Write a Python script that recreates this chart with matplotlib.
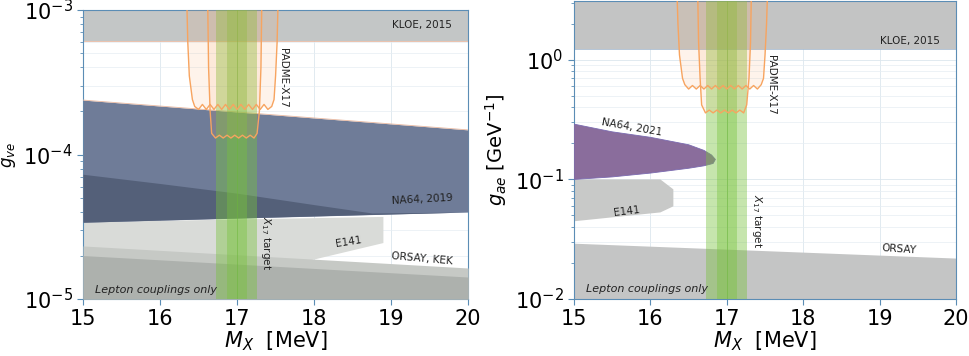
import numpy as np
import matplotlib
matplotlib.use("Agg")
import matplotlib.pyplot as plt

# ---------------- data ----------------
mx_lim = (15, 20)

# left panel: g_ve
kloe_ve = 6.1e-4
na64_2019_x = [15, 20]
na64_2019_lo = [3.4e-5, 4.0e-5]
na64_2019_hi = [2.38e-4, 1.48e-4]
na64_dark_x = [15, 16, 17, 18, 18.75, 20]
na64_dark_hi = [7.3e-5, 6.3e-5, 5.4e-5, 4.5e-5, 3.94e-5, 4.0e-5]
na64_dark_lo = [3.4e-5, 3.52e-5, 3.64e-5, 3.76e-5, 3.85e-5, 4.0e-5]
e141_ve_x = [15, 18.9, 18.9, 17.97, 15]
e141_ve_y = [3.4e-5, 3.7e-5, 2.44e-5, 1.86e-5, 1.5e-5]
orsay_ve_x = [15, 20]
orsay_ve_hi = [2.33e-5, 1.64e-5]
kek_ve_hi = [2.0e-5, 1.42e-5]

padme_ve_outer_x = [16.35, 16.36, 16.38, 16.42, 16.45, 16.5, 16.55, 16.6, 16.65, 16.7, 16.75,
                    16.8, 16.85, 16.9, 16.95, 17.0, 17.05, 17.1, 17.15, 17.2, 17.25, 17.3,
                    17.35, 17.4, 17.45, 17.48, 17.5, 17.52, 17.53]
padme_ve_outer_y = [1e-3, 6e-4, 3.5e-4, 2.4e-4, 2.15e-4, 2.05e-4, 2.22e-4, 2.05e-4, 2.22e-4,
                    2.05e-4, 2.22e-4, 2.05e-4, 2.22e-4, 2.05e-4, 2.22e-4, 2.05e-4, 2.22e-4,
                    2.05e-4, 2.22e-4, 2.05e-4, 2.22e-4, 2.05e-4, 2.22e-4, 2.05e-4, 2.15e-4,
                    2.4e-4, 3.5e-4, 6e-4, 1e-3]
padme_ve_inner_x = [16.62, 16.63, 16.65, 16.67, 16.72, 16.77, 16.82, 16.87, 16.92, 16.97,
                    17.02, 17.07, 17.12, 17.17, 17.22, 17.26, 17.29, 17.31, 17.32]
padme_ve_inner_y = [1e-3, 4e-4, 2e-4, 1.4e-4, 1.3e-4, 1.36e-4, 1.3e-4, 1.36e-4, 1.3e-4,
                    1.36e-4, 1.3e-4, 1.36e-4, 1.3e-4, 1.36e-4, 1.3e-4, 1.4e-4, 2e-4, 4e-4, 1e-3]

# right panel: g_ae
kloe_ae = 1.24
na64_2021_x = [15, 15.5, 16, 16.5, 16.7, 16.8, 16.85, 16.82, 16.7, 16.5, 16, 15.5, 15]
na64_2021_y = [0.29, 0.25, 0.225, 0.195, 0.175, 0.16, 0.147, 0.136, 0.13, 0.124, 0.113, 0.105, 0.1]
e141_ae_x = [15, 16.13, 16.3, 16.3, 16.13, 15]
e141_ae_y = [0.1, 0.1, 0.0826, 0.0596, 0.053, 0.0447]
orsay_ae_x = [15, 20]
orsay_ae_hi = [0.0293, 0.022]

padme_ae_outer_x = padme_ve_outer_x
padme_ae_outer_y = [3.2, 2.0, 1.1, 0.7, 0.62, 0.57, 0.61, 0.57, 0.61, 0.57, 0.61, 0.57, 0.61,
                    0.57, 0.61, 0.57, 0.61, 0.57, 0.61, 0.57, 0.61, 0.57, 0.61, 0.57, 0.62,
                    0.7, 1.1, 2.0, 3.2]
padme_ae_inner_x = padme_ve_inner_x
padme_ae_inner_y = [3.2, 1.4, 0.7, 0.42, 0.36, 0.38, 0.36, 0.38, 0.36, 0.38, 0.36, 0.38,
                    0.36, 0.38, 0.36, 0.42, 0.7, 1.4, 3.2]

x17_outer = (16.73, 17.26)
x17_inner = (16.87, 17.13)

# ---------------- figure ----------------
fig = plt.figure(figsize=(9.7, 3.56), dpi=100)
ax1 = fig.add_axes([0.0856, 0.160, 0.397, 0.812])
ax2 = fig.add_axes([0.5918, 0.160, 0.3938, 0.837])

spine_c = "#5b8db5"
orange = "#f7a460"


def style(ax, ylim):
    ax.set_yscale("log")
    ax.set_xlim(*mx_lim)
    ax.set_ylim(*ylim)
    ax.set_xticks([15, 16, 17, 18, 19, 20])
    ax.tick_params(labelsize=15, color=spine_c, length=4)
    ax.tick_params(which="minor", color=spine_c, length=2)
    for s in ax.spines.values():
        s.set_color(spine_c)
        s.set_linewidth(0.8)
    ax.grid(True, which="major", color="#dce6ee", lw=0.6)
    ax.grid(True, which="minor", axis="y", color="#e6edf3", lw=0.5)
    ax.set_axisbelow(True)
    ax.set_xlabel(r"$M_X$  [MeV]", fontsize=15, labelpad=0)


def x17(ax):
    ax.axvspan(*x17_outer, color="#78c23c", alpha=0.42, lw=0, zorder=5)
    ax.axvspan(*x17_inner, color="#78c23c", alpha=0.40, lw=0, zorder=5)
    ax.axvline(17.0, color="#6cb83a", lw=0.6, alpha=0.6, zorder=5)


def padme(ax, ox, oy, ix, iy):
    for xs, ys in [(ox, oy), (ix, iy)]:
        ax.fill(xs, ys, facecolor=orange, alpha=0.12, hatch="....", edgecolor="none", zorder=6)
        ax.plot(xs, ys, color=orange, lw=1.0, zorder=7)


# ---- left panel ----
ylim1 = (1e-5, 1e-3)
style(ax1, ylim1)
ax1.axhspan(kloe_ve, 1e-3, color="#c3c6c6", lw=0, zorder=2)
ax1.axhline(kloe_ve, color="#e8b8a0", lw=0.6, zorder=2)
ax1.fill(e141_ve_x, e141_ve_y, color="#d9dbd8", lw=0, zorder=2)
ax1.fill_between(orsay_ve_x, 1e-5, orsay_ve_hi, color="#c6c9c5", lw=0, zorder=3)
ax1.fill_between(orsay_ve_x, 1e-5, kek_ve_hi, color="#adb1ad", lw=0, zorder=3)
ax1.fill_between(na64_2019_x, na64_2019_lo, na64_2019_hi, color="#6f7c98", lw=0, zorder=3)
ax1.plot(na64_2019_x, na64_2019_hi, color="#e8b8a0", lw=0.6, zorder=3)
ax1.fill_between(na64_dark_x, na64_dark_lo, na64_dark_hi, color="#546079", lw=0, zorder=3)
x17(ax1)
padme(ax1, padme_ve_outer_x, padme_ve_outer_y, padme_ve_inner_x, padme_ve_inner_y)
ax1.set_ylabel(r"$g_{ve}$", fontsize=12, labelpad=4)

tk = dict(fontsize=7.5, color="#222222", zorder=10)
ax1.text(19.4, 7.9e-4, "KLOE, 2015", ha="center", va="center", **tk)
ax1.text(17.6, 3.4e-4, "PADME-X17", ha="center", va="center", rotation=-90, **tk)
ax1.text(19.4, 4.9e-5, "NA64, 2019", ha="center", va="center", rotation=3, **tk)
ax1.text(18.45, 2.5e-5, "E141", ha="center", va="center", rotation=9, **tk)
ax1.text(19.4, 1.9e-5, "ORSAY, KEK", ha="center", va="center", rotation=-5, **tk)
ax1.text(17.38, 2.45e-5, r"$X_{17}$ target", ha="center", va="center", rotation=-90, **tk)
ax1.text(15.15, 1.16e-5, "Lepton couplings only", ha="left", va="center",
         style="italic", fontsize=8, color="#222222", zorder=10)

# ---- right panel ----
ylim2 = (1e-2, 3.1)
style(ax2, ylim2)
ax2.axhspan(kloe_ae, 3.1, color="#c3c4c4", lw=0, zorder=2)
ax2.axhline(kloe_ae, color="#a8bcd0", lw=0.6, zorder=2)
ax2.fill(e141_ae_x, e141_ae_y, color="#c8c9c8", lw=0, zorder=2)
ax2.fill_between(orsay_ae_x, 1e-2, orsay_ae_hi, color="#c4c5c5", lw=0, zorder=2)
ax2.fill(na64_2021_x, na64_2021_y, color="#8a6d9c", lw=0.6, edgecolor="#7a6ab0", zorder=3)
x17(ax2)
padme(ax2, padme_ae_outer_x, padme_ae_outer_y, padme_ae_inner_x, padme_ae_inner_y)
ax2.set_ylabel(r"$g_{ae}$ [GeV$^{-1}$]", fontsize=14, labelpad=4)

ax2.text(19.4, 1.44, "KLOE, 2015", ha="center", va="center", **tk)
ax2.text(17.58, 0.62, "PADME-X17", ha="center", va="center", rotation=-90, **tk)
ax2.text(15.75, 0.27, "NA64, 2021", ha="center", va="center", rotation=-10, **tk)
ax2.text(15.69, 0.054, "E141", ha="center", va="center", rotation=7, **tk)
ax2.text(17.39, 0.045, r"$X_{17}$ target", ha="center", va="center", rotation=-90, **tk)
ax2.text(19.25, 0.026, "ORSAY", ha="center", va="center", rotation=-4, **tk)
ax2.text(15.15, 0.0122, "Lepton couplings only", ha="left", va="center",
         style="italic", fontsize=8, color="#222222", zorder=10)

fig.savefig("out.png", dpi=100)
